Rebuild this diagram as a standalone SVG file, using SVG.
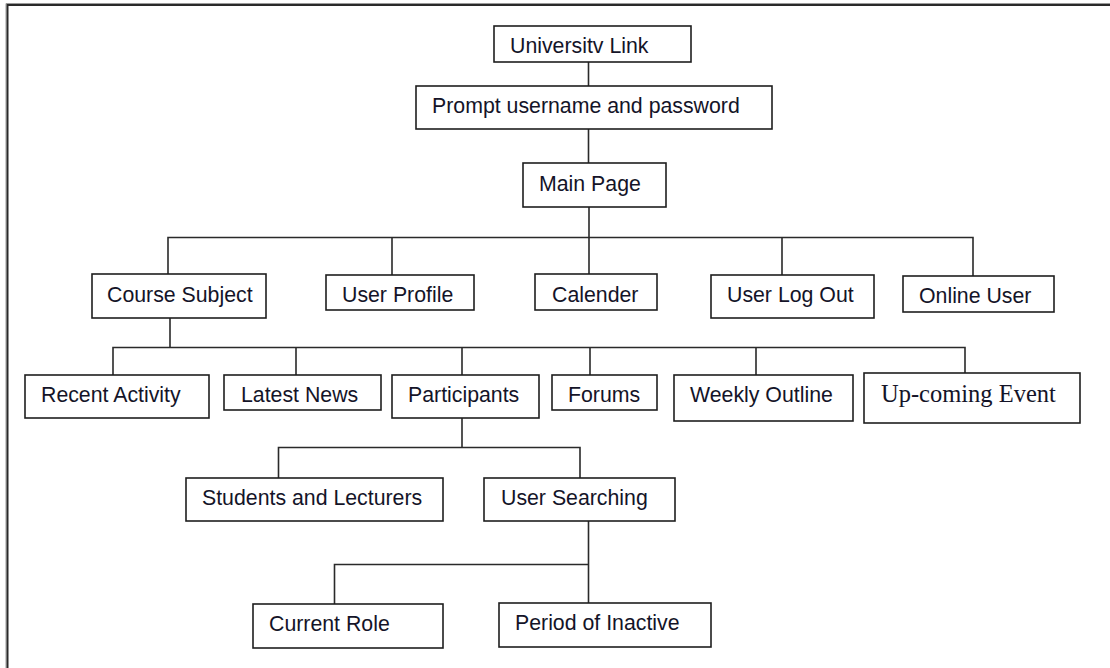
<svg xmlns="http://www.w3.org/2000/svg" width="1110" height="668" viewBox="0 0 1110 668">
<style>
.box{fill:#fff;stroke:#1e1e1e;stroke-width:1.6}
.lbl{font-family:"Liberation Sans",Arial,sans-serif;font-size:21.3px;fill:#141428}
.ser{font-family:"Liberation Serif","Times New Roman",serif;font-size:24.5px;fill:#141428}
.con{fill:none;stroke:#2a2a2a;stroke-width:1.6}
.frame{fill:none;stroke:#2a2a2a;stroke-width:2}
.frame2{fill:none;stroke:#9a9a9a;stroke-width:1}
</style>
<rect x="0" y="0" width="1110" height="668" fill="#fff"/>
<path class="frame2" d="M6 668 V3.5 H1110"/>
<path class="frame" d="M7.5 668 V5 H1110"/>
<g id="connectors">
<path class="con" d="M588.5 62 V86 M588.5 129 V163 M589 207 V274"/>
<path class="con" d="M168 274 V237.5 H973 V276 M392 237.5 V275 M782 237.5 V275"/>
<path class="con" d="M170 318 V347.5 M113 375 V347.5 H965 V373 M296 347.5 V375 M462 347.5 V375 M590 347.5 V375 M756 347.5 V375"/>
<path class="con" d="M462 418 V447.5 M278.5 478 V447.5 H580 V478"/>
<path class="con" d="M588.5 521 V603 M334.5 604 V564.5 H588.5"/>
</g>
<g id="n-university-link"><rect class="box" x="494" y="26" width="197" height="36"/><text class="lbl" x="510" y="53">Universitv Link</text></g>
<g id="n-prompt"><rect class="box" x="416" y="86" width="356" height="43"/><text class="lbl" x="432" y="113">Prompt username and password</text></g>
<g id="n-main-page"><rect class="box" x="523" y="163" width="143" height="44"/><text class="lbl" x="539" y="191">Main Page</text></g>
<g id="n-course-subject"><rect class="box" x="92" y="274" width="174" height="44"/><text class="lbl" x="107" y="302">Course Subject</text></g>
<g id="n-user-profile"><rect class="box" x="326" y="275" width="148" height="35"/><text class="lbl" x="342" y="302">User Profile</text></g>
<g id="n-calender"><rect class="box" x="535" y="274" width="122" height="36"/><text class="lbl" x="552" y="302">Calender</text></g>
<g id="n-user-log-out"><rect class="box" x="711" y="275" width="163" height="43"/><text class="lbl" x="727" y="302">User Log Out</text></g>
<g id="n-online-user"><rect class="box" x="903" y="276" width="151" height="36"/><text class="lbl" x="919" y="303">Online User</text></g>
<g id="n-recent-activity"><rect class="box" x="25" y="375" width="184" height="43"/><text class="lbl" x="41" y="402">Recent Activity</text></g>
<g id="n-latest-news"><rect class="box" x="224" y="375" width="157" height="35"/><text class="lbl" x="241" y="402">Latest News</text></g>
<g id="n-participants"><rect class="box" x="392" y="375" width="147" height="43"/><text class="lbl" x="408" y="402">Participants</text></g>
<g id="n-forums"><rect class="box" x="552" y="375" width="105" height="35"/><text class="lbl" x="568" y="402">Forums</text></g>
<g id="n-weekly-outline"><rect class="box" x="674" y="375" width="179" height="46"/><text class="lbl" x="690" y="402">Weekly Outline</text></g>
<g id="n-upcoming-event"><rect class="box" x="864" y="373" width="216" height="50"/><text class="ser" x="881" y="402">Up-coming Event</text></g>
<g id="n-students-lecturers"><rect class="box" x="186" y="478" width="257" height="43"/><text class="lbl" x="202" y="505">Students and Lecturers</text></g>
<g id="n-user-searching"><rect class="box" x="484" y="478" width="191" height="43"/><text class="lbl" x="501" y="505">User Searching</text></g>
<g id="n-current-role"><rect class="box" x="253" y="604" width="190" height="44"/><text class="lbl" x="269" y="631">Current Role</text></g>
<g id="n-period-inactive"><rect class="box" x="499" y="603" width="212" height="44"/><text class="lbl" x="515" y="630">Period of Inactive</text></g>
</svg>
